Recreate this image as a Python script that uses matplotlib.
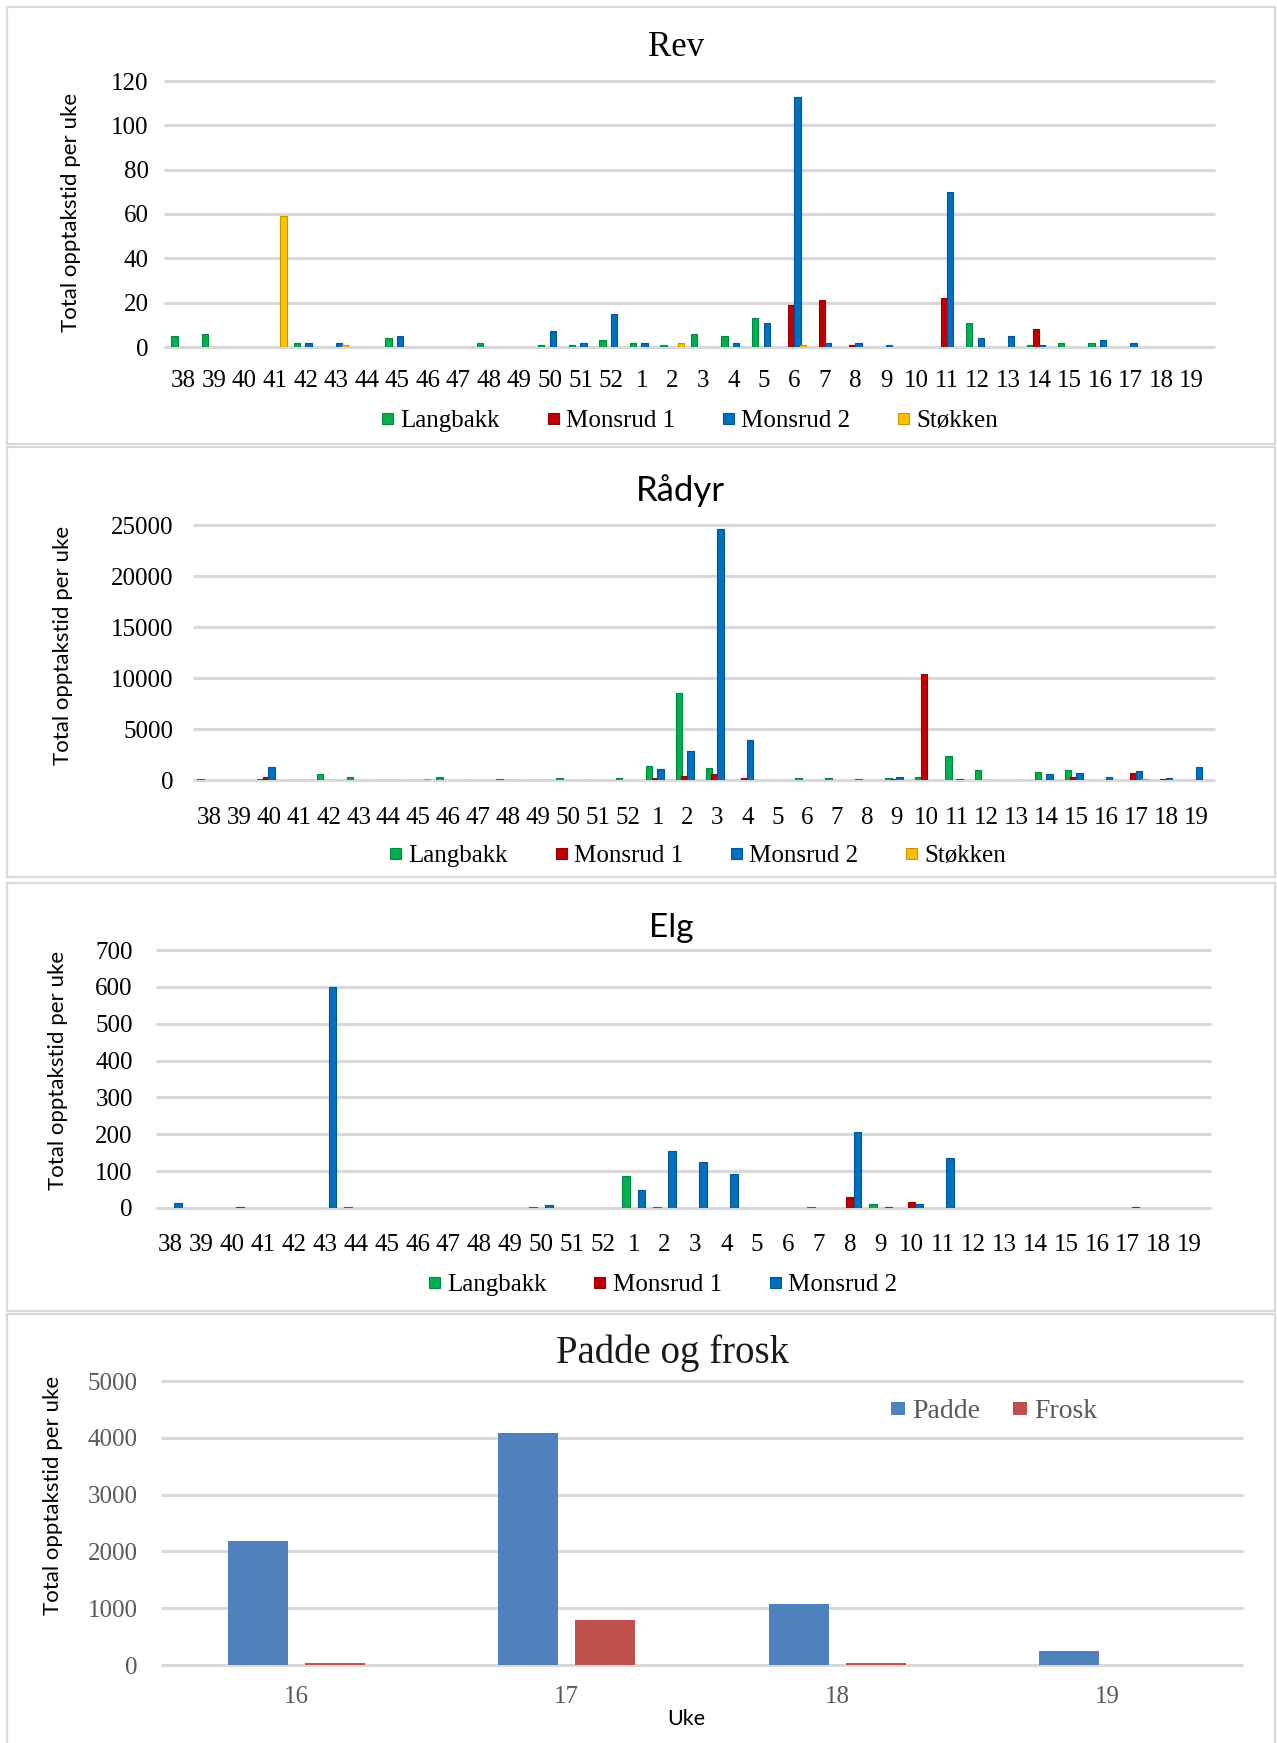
import numpy as np
import matplotlib
matplotlib.use("Agg")
import matplotlib.pyplot as plt
from matplotlib.patches import Rectangle
from matplotlib.colors import to_rgb

nan = np.nan

# Week numbers: autumn (38-52) followed by spring (1-19)
weeks = [str(w) for w in list(range(38, 53)) + list(range(1, 20))]

# ---- Rev (red fox), recording time per week ----
rev_langbakk = [5, 6, nan, nan, 2, nan, nan, 4, nan, nan, 2, nan, 1, 1, 3,
                2, 1, 6, 5, 13, nan, nan, nan, nan, nan, nan, 11, nan, 1, 2, 2, nan, nan, nan]
rev_monsrud1 = [nan, nan, nan, nan, nan, nan, nan, nan, nan, nan, nan, nan, nan, nan, nan,
                nan, nan, nan, nan, nan, 19, 21, 1, nan, nan, 22, nan, nan, 8, nan, nan, nan, nan, nan]
rev_monsrud2 = [nan, nan, nan, nan, 2, 2, nan, 5, nan, nan, nan, nan, 7, 2, 15,
                2, nan, nan, 2, 11, 113, 2, 2, 1, nan, 70, 4, 5, 1, nan, 3, 2, nan, nan]
rev_stokken = [nan, nan, nan, 59, nan, 1, nan, nan, nan, nan, nan, nan, nan, nan, nan,
               nan, 2, nan, nan, nan, 1, nan, nan, nan, nan, nan, nan, nan, nan, nan, nan, nan, nan, nan]

# ---- Rådyr (roe deer) ----
radyr_langbakk = [100, nan, 50, 40, 580, 320, 40, 40, 290, 40, 100, 40, 160, 40, 220,
                  1390, 8520, 1200, 40, nan, 160, 160, 100, 160, 260, 2360, 1000, nan, 740, 940, nan, nan, nan, nan]
radyr_monsrud1 = [nan, nan, 320, nan, nan, nan, nan, nan, nan, nan, 40, nan, nan, nan, nan,
                  160, 420, 580, 160, nan, nan, nan, nan, 65, 10420, 40, nan, nan, nan, 320, nan, 680, 65, 40]
radyr_monsrud2 = [nan, nan, 1320, 40, 40, nan, 40, 40, nan, nan, 40, 40, nan, nan, nan,
                  1070, 2840, 24600, 3970, nan, nan, nan, nan, 260, nan, 100, 40, 40, 550, 680, 320, 840, 160, 1260]
radyr_stokken = [nan, nan, nan, 40, 40, nan, nan, 100, nan, 40, nan, 40, 40, 40, nan,
                 nan, 40, 40, nan, nan, 40, nan, nan, nan, 40, nan, nan, 40, 40, nan, nan, 60, 40, nan]

# ---- Elg (moose) ----
elg_langbakk = [nan, nan, nan, nan, nan, nan, 2, nan, nan, nan, nan, nan, 2, nan, nan,
                88, 3, nan, nan, nan, nan, 2, nan, 11, nan, nan, nan, nan, nan, nan, nan, nan, nan, nan]
elg_monsrud1 = [nan, nan, nan, nan, nan, nan, nan, nan, nan, nan, nan, nan, nan, nan, nan,
                nan, nan, nan, nan, nan, nan, nan, 29, nan, 15, nan, nan, nan, nan, nan, nan, nan, nan, nan]
elg_monsrud2 = [14, nan, 2, nan, nan, 600, nan, nan, nan, nan, nan, nan, 8, nan, nan,
                48, 155, 126, 92, nan, nan, nan, 205, 3, 10, 135, nan, nan, nan, nan, nan, 2, nan, nan]

# ---- Padde og frosk (toad and frog) ----
amph_weeks = ["16", "17", "18", "19"]
padde = [2190, 4080, 1070, 250]
frosk = [40, 790, 40, 0]

site_names = ["Langbakk", "Monsrud 1", "Monsrud 2", "Støkken"]
site_colors = ["#00B050", "#C00000", "#0070C0", "#FFC000"]

SERIF = ["Liberation Serif", "DejaVu Serif"]
SANS = ["Lato", "DejaVu Sans"]
GRID = "#D9D9D9"
YLABEL = "Total opptakstid per uke"

W, H = 1277, 1743
fig = plt.figure(figsize=(W / 100, H / 100), dpi=100)
fig.patch.set_facecolor("white")


def px_axes(x0, y0, x1, y1):
    """Axes from pixel box (top-left origin)."""
    return fig.add_axes([x0 / W, 1 - y1 / H, (x1 - x0) / W, (y1 - y0) / H])


def darker(c, f=0.78):
    r, g, b = to_rgb(c)
    return (r * f, g * f, b * f)


# panel frames
for (y0, y1) in [(7, 444), (447, 877), (883, 1311), (1314, 1745)]:
    fig.patches.append(Rectangle((7 / W, 1 - y1 / H), (1275 - 7) / W, (y1 - y0) / H,
                                 transform=fig.transFigure, fill=False,
                                 edgecolor=GRID, linewidth=1.6, zorder=0))


def style_axes(ax, box, grid_x, yticks, ypad, xpad, color="black"):
    x0, _, x1, _ = box
    for s in ax.spines.values():
        s.set_visible(False)
    ax.set_yticks(yticks)
    ax.hlines(yticks, (grid_x[0] - x0) / (x1 - x0), (grid_x[1] - x0) / (x1 - x0),
              transform=ax.get_yaxis_transform(), colors=GRID,
              linewidth=2.2, clip_on=False, zorder=1)
    ax.tick_params(axis="both", length=0, labelsize=18, labelcolor=color)
    ax.tick_params(axis="y", pad=ypad)
    ax.tick_params(axis="x", pad=xpad)
    for lab in ax.get_xticklabels() + ax.get_yticklabels():
        lab.set_family(SERIF)
    ax.set_facecolor("none")


def weekly_panel(box, grid_x, title, title_xy, title_font, series, names, step, width,
                 ymax, ystep, ypad, xpad, ylabel_x, ylabel_y, legend_xy):
    ax = px_axes(*box)
    x = np.arange(len(weeks))
    k = len(series)
    for i, (vals, name) in enumerate(zip(series, names)):
        c = site_colors[site_names.index(name)]
        off = (i - (k - 1) / 2) * step
        ax.bar(x + off, vals, width, color=c, edgecolor=darker(c), linewidth=0.8,
               label=name, zorder=3)
    ax.set_xlim(-0.5, len(weeks) - 0.5)
    ax.set_ylim(0, ymax)
    ax.set_xticks(x, weeks)
    style_axes(ax, box, grid_x, np.arange(0, ymax + 1, ystep), ypad, xpad)

    x0, y0, x1, y1 = box
    fam, size = title_font
    ax.set_title(title, x=(title_xy[0] - x0) / (x1 - x0),
                 y=1 + (y0 - title_xy[1]) / (y1 - y0), va="center", pad=0,
                 fontsize=size, family=fam, color="black")
    ax.set_ylabel(YLABEL, family=SANS, fontsize=16, color="black")
    ax.yaxis.set_label_coords(ylabel_x / W, 1 - ylabel_y / H, transform=fig.transFigure)
    ax.yaxis.label.set_va("center")
    ax.legend(loc="center", bbox_to_anchor=(legend_xy[0] / W, 1 - legend_xy[1] / H),
              bbox_transform=fig.transFigure, ncol=k, frameon=False,
              prop={"family": SERIF, "size": 18}, handlelength=0.44, handleheight=0.3,
              handletextpad=0.3, columnspacing=1.9, borderaxespad=0, borderpad=0)
    return ax


weekly_panel((168, 81, 1207, 347), (164, 1215), "Rev", (676, 48), (SERIF, 25),
             [rev_langbakk, rev_monsrud1, rev_monsrud2, rev_stokken], site_names,
             0.19, 0.21, 120, 20, 14, 16.5, 71, 212, (690, 421))

weekly_panel((194, 525, 1211, 780), (193, 1215), "Rådyr", (680, 491), (SANS, 25),
             [radyr_langbakk, radyr_monsrud1, radyr_monsrud2, radyr_stokken], site_names,
             0.19, 0.22, 25000, 5000, 15, 19.5, 63, 645, (698, 856))

weekly_panel((155, 950, 1205, 1208), (156, 1211), "Elg", (671, 928), (SANS, 24),
             [elg_langbakk, elg_monsrud1, elg_monsrud2], site_names[:3],
             0.25, 0.25, 700, 100, 16, 18.5, 58, 1070, (663, 1285))

# ---- Padde og frosk ----
GREYTXT = "#595959"
box = (161, 1381, 1243, 1665)
ax = px_axes(*box)
xa = np.arange(len(amph_weeks))
ax.bar(xa - 0.143, padde, 0.222, color="#4F81BD", label="Padde", zorder=3)
ax.bar(xa + 0.143, frosk, 0.222, color="#C0504D", label="Frosk", zorder=3)
ax.set_xlim(-0.5, len(amph_weeks) - 0.5)
ax.set_ylim(0, 5000)
ax.set_xticks(xa, amph_weeks)
style_axes(ax, box, (161, 1243), np.arange(0, 5001, 1000), 17, 15, color=GREYTXT)
x0, y0, x1, y1 = box
ax.set_title("Padde og frosk", x=(672 - x0) / (x1 - x0), y=1 + (y0 - 1353) / (y1 - y0),
             va="center", pad=0, fontsize=28, family=SERIF, color="#1a1a1a")
ax.set_ylabel(YLABEL, family=SANS, fontsize=16, color="black")
ax.yaxis.set_label_coords(53 / W, 1 - 1495 / H, transform=fig.transFigure)
ax.yaxis.label.set_va("center")
ax.set_xlabel("Uke", family=SANS, fontsize=15.5, color="black")
ax.xaxis.set_label_coords(686 / W, 1 - 1719 / H, transform=fig.transFigure)
ax.xaxis.label.set_va("center")
leg = ax.legend(loc="center", bbox_to_anchor=(994 / W, 1 - 1412 / H),
                bbox_transform=fig.transFigure, ncol=2, frameon=False,
                prop={"family": SERIF, "size": 20}, handlelength=0.5, handleheight=0.35,
                handletextpad=0.25, columnspacing=1.2, borderaxespad=0, borderpad=0)
for t in leg.get_texts():
    t.set_color(GREYTXT)

fig.savefig("out.png", dpi=100, facecolor="white")
